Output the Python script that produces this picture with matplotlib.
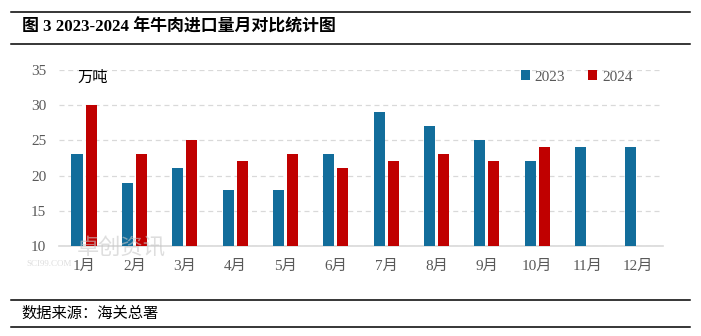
import numpy as np
import matplotlib
matplotlib.use('Agg')
from matplotlib import pyplot as plt
from matplotlib.lines import Line2D

months = ['1月', '2月', '3月', '4月', '5月', '6月', '7月', '8月', '9月', '10月', '11月', '12月']
imports_2023 = [23, 19, 21, 18, 18, 23, 29, 27, 25, 22, 24, 24]
imports_2024 = [30, 23, 25, 22, 23, 21, 22, 23, 22, 24]
yticks = [10, 15, 20, 25, 30, 35]

blue = '#126d9b'
red = '#c00000'
serif_cjk = ['Liberation Serif', 'Noto Sans CJK SC']
plt.rcParams['font.family'] = serif_cjk

fig = plt.figure(figsize=(7.01, 3.36), dpi=100)
ax = fig.add_axes([0.084, 0.268, 0.862, 0.524])

x = np.arange(len(months))
w = 0.22
ax.bar(x[:len(imports_2023)] - 0.14, np.array(imports_2023) - 10, w, bottom=10, color=blue, label='2023', zorder=3)
ax.bar(x[:len(imports_2024)] + 0.14, np.array(imports_2024) - 10, w, bottom=10, color=red, label='2024', zorder=3)

ax.set_xlim(-0.5, len(months) - 0.5)
ax.set_ylim(10, 35)
ax.set_yticks(yticks)
ax.set_xticks(x)
ax.set_xticklabels(months)
ax.tick_params(axis='both', length=0, labelsize=11, colors='#595959', pad=10)
ax.tick_params(axis='y', pad=9)
ax.grid(axis='y', color='#d9d9d9', linestyle=(0, (4, 3)), linewidth=0.9, zorder=0)
for s in ['top', 'right', 'left']:
    ax.spines[s].set_visible(False)
ax.spines['bottom'].set_color('#d9d9d9')
ax.spines['bottom'].set_linewidth(1.2)

ax.text(0.03, 0.96, '万吨', transform=ax.transAxes, fontsize=11, color='black',
        family=['Noto Sans CJK SC'], va='center')
ax.legend(loc='upper right', bbox_to_anchor=(0.972, 1.075), ncol=2, frameon=False,
          fontsize=11, handlelength=0.6, handleheight=0.6, handletextpad=0.3,
          columnspacing=1.5, labelcolor='#595959')

# watermark
fig.text(0.11, 0.262, '卓创资讯', fontsize=16, color='#c8c8c8', alpha=0.6,
         family=['Noto Sans CJK SC'], ha='left', va='center', zorder=0)
fig.text(0.038, 0.215, 'SCI99.COM', fontsize=6.5, color='#c8c8c8', alpha=0.6,
         ha='left', va='center', zorder=0)

# title and footer with rules
for yy in [0.964, 0.869, 0.107, 0.027]:
    fig.add_artist(Line2D([0.015, 0.985], [yy, yy], color='black', linewidth=1.1))
fig.text(0.031, 0.918, '图 3 2023-2024 年牛肉进口量月对比统计图', fontsize=12.2,
         fontweight='bold', ha='left', va='center', family=serif_cjk)
fig.text(0.031, 0.068, '数据来源：海关总署', fontsize=11, ha='left', va='center',
         family=['Noto Sans CJK SC'])

fig.savefig('out.png', dpi=100)
